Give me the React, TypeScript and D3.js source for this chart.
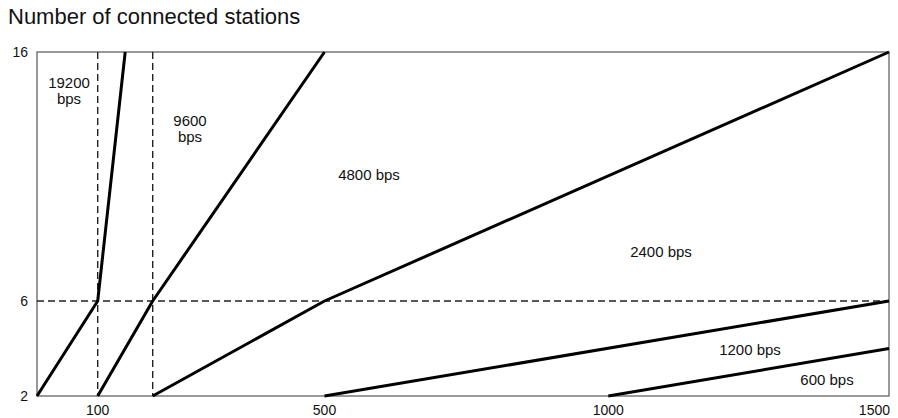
import React from "react";
import * as d3 from "d3";

// Boundary lines between transmission-speed regions: [x value, stations]
const xTicks = [100, 500, 1000, 1500];
const yTicks = [2, 6, 16];

const line19200: [number, number][] = [[0, 2], [100, 6], [150, 16]];
const line9600: [number, number][] = [[100, 2], [200, 6], [500, 16]];
const line4800: [number, number][] = [[200, 2], [500, 6], [1500, 16]];
const line2400: [number, number][] = [[500, 2], [1500, 6]];
const line1200: [number, number][] = [[1000, 2], [1500, 4]];
const boundaryLines = [line19200, line9600, line4800, line2400, line1200];

const dashedX = [100, 200];
const dashedY = [6];

const regionLabels: { lines: string[]; x: number; y: number }[] = [
  { lines: ["19200", "bps"], x: 69, y: 88 },
  { lines: ["9600", "bps"], x: 190, y: 126 },
  { lines: ["4800 bps"], x: 369, y: 180 },
  { lines: ["2400 bps"], x: 661, y: 257 },
  { lines: ["1200 bps"], x: 750, y: 355 },
  { lines: ["600 bps"], x: 827, y: 385 },
];

const title = "Number of connected stations";

export default function App() {
  const W = 898;
  const H = 418;
  const x = d3
    .scaleLinear()
    .domain([0, 100, 200, 500, 1000, 1500])
    .range([37, 97.7, 152.7, 324.5, 608.3, 889]);
  const y = d3.scaleLinear().domain([2, 6, 16]).range([396, 301, 52]);
  const line = d3
    .line<[number, number]>()
    .x((d) => x(d[0]))
    .y((d) => y(d[1]));
  const font = "'Liberation Sans', Arial, Helvetica, sans-serif";
  const x0 = x(0), x1 = x(1500), y0 = y(2), y1 = y(16);

  return (
    <svg
      width={W}
      height={H}
      style={{ position: "absolute", left: 0, top: 0, display: "block", background: "#fff" }}
      fontFamily={font}
    >
      <rect width={W} height={H} fill="#fff" />
      <text x={8} y={24} fontSize={22} fill="#111">{title}</text>

      {/* frame */}
      <rect x={x0} y={y1} width={x1 - x0} height={y0 - y1} fill="none" stroke="#555" strokeWidth={1.2} />

      {/* dashed guides */}
      {dashedX.map((v) => (
        <line key={"dx" + v} x1={x(v)} x2={x(v)} y1={y1} y2={y0} stroke="#222" strokeWidth={1.4} strokeDasharray="7,4" />
      ))}
      {dashedY.map((v) => (
        <line key={"dy" + v} x1={x0} x2={x1} y1={y(v)} y2={y(v)} stroke="#222" strokeWidth={1.4} strokeDasharray="7,4" />
      ))}

      {/* boundary lines */}
      {boundaryLines.map((pts, i) => (
        <path key={i} d={line(pts) || ""} fill="none" stroke="#000" strokeWidth={3} strokeLinejoin="round" />
      ))}

      {/* x tick labels */}
      {xTicks.map((v, i) => (
        <text
          key={"xt" + v}
          x={i === xTicks.length - 1 ? x(v) + 1 : x(v)}
          y={415}
          fontSize={14}
          textAnchor={i === xTicks.length - 1 ? "end" : "middle"}
          fill="#111"
        >
          {v}
        </text>
      ))}
      {/* y tick labels */}
      {yTicks.map((v) => (
        <text key={"yt" + v} x={28} y={y(v) + 5} fontSize={14} textAnchor="end" fill="#111">
          {v}
        </text>
      ))}

      {/* region labels */}
      {regionLabels.map((l, i) => (
        <text key={"rl" + i} x={l.x} y={l.y} fontSize={15} textAnchor="middle" fill="#111">
          {l.lines.map((s, j) => (
            <tspan key={j} x={l.x} dy={j === 0 ? 0 : 16}>
              {s}
            </tspan>
          ))}
        </text>
      ))}
    </svg>
  );
}
